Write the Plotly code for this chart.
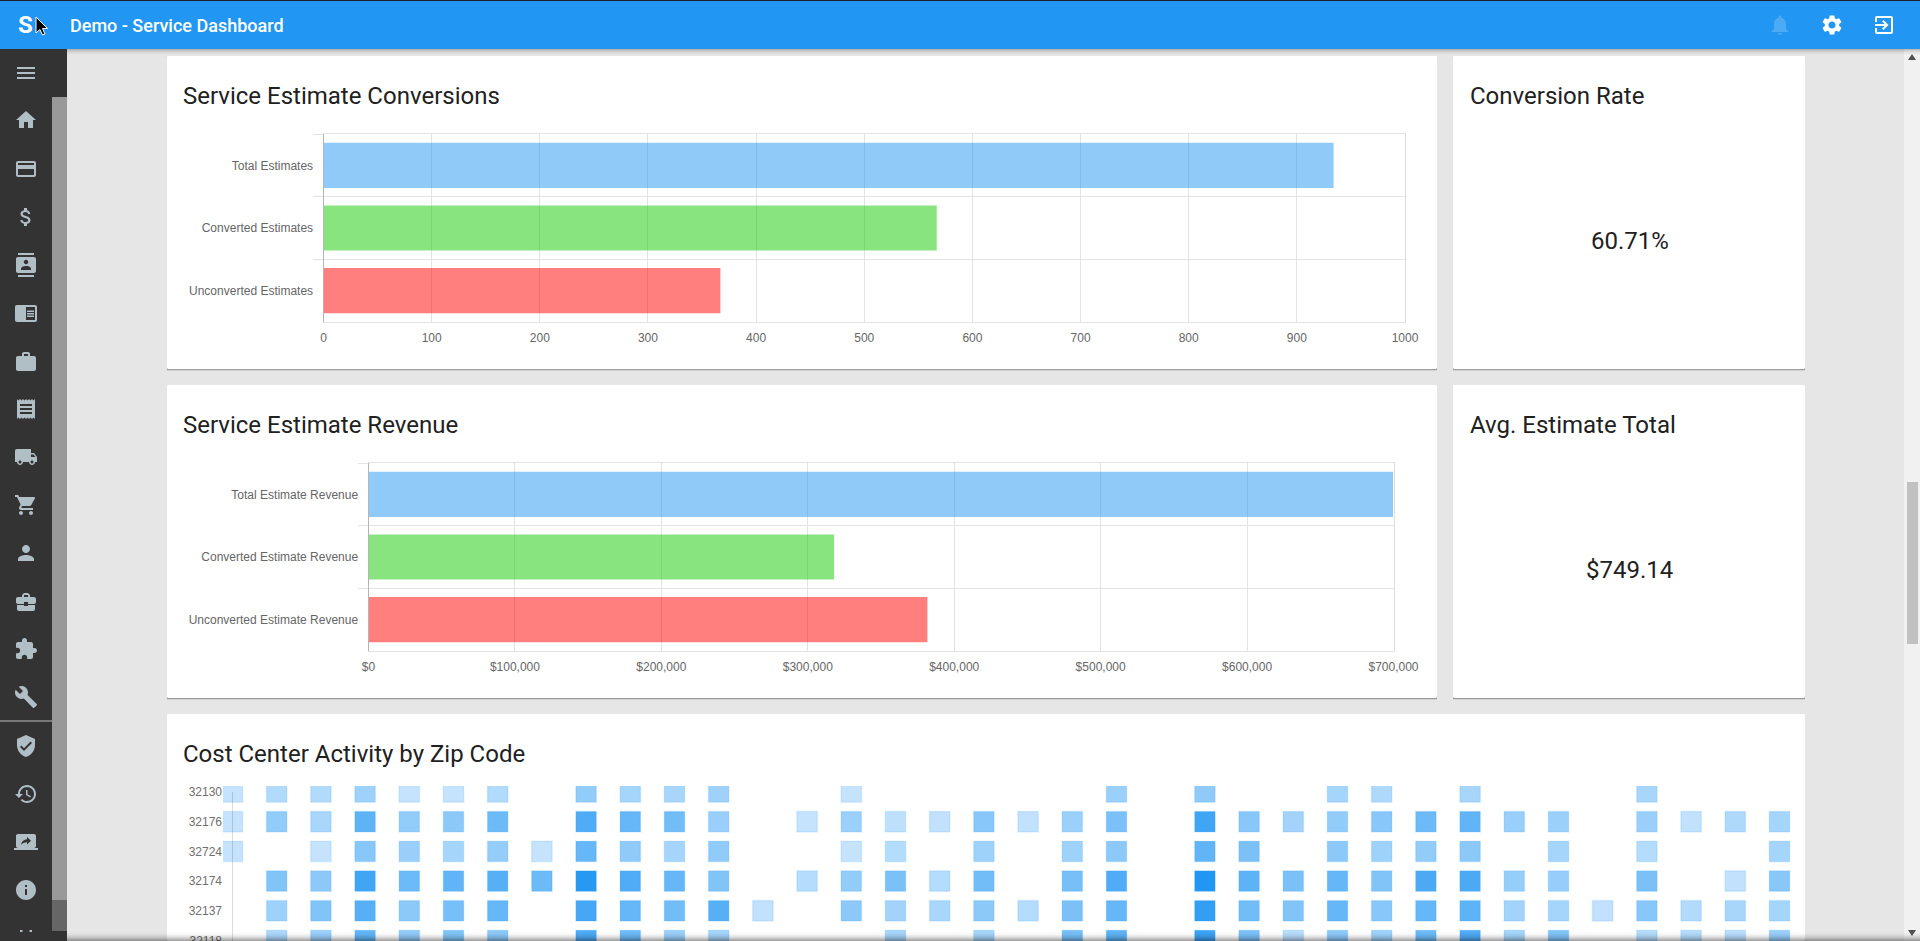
#!/usr/bin/env python3
"""Service dashboard screenshot rebuilt with Plotly: two bar charts and a zip code activity grid."""
import re
import plotly.graph_objects as go

W, H = 1920, 941

# --------------------
# Data
# --------------------
conversion_labels = ["Total Estimates", "Converted Estimates", "Unconverted Estimates"]
conversion_values = [934, 567, 367]
conversion_ticks = [0, 100, 200, 300, 400, 500, 600, 700, 800, 900, 1000]

revenue_labels = ["Total Estimate Revenue", "Converted Estimate Revenue", "Unconverted Estimate Revenue"]
revenue_values = [699697, 318000, 381697]
revenue_ticks = [0, 100000, 200000, 300000, 400000, 500000, 600000, 700000]

bar_colors = ["rgba(33,150,243,0.5)", "rgba(17,201,0,0.5)", "rgba(255,0,0,0.5)"]

conversion_rate = "60.71%"
avg_estimate = "$749.14"

zip_codes = ["32130", "32176", "32724", "32174", "32137", "32118"]
cost_centers = list(range(36))
_ = None
activity_32130 = [5, 20, 20, 35, 5, 5, 20, _, 45, 30, 28, 35, _, _, 5, _, _, _, _, _, 38, _, 48, _, _, 30, 22, _, 28, _, _, _, 28, _, _, _]
activity_32176 = [5, 45, 27, 72, 45, 50, 65, _, 78, 68, 62, 40, _, 5, 38, 10, 8, 52, 8, 38, 58, _, 85, 52, 32, 45, 52, 65, 70, 40, 38, _, 40, 8, 22, 30]
activity_32724 = [5, _, 5, 52, 40, 30, 43, 5, 68, 48, 30, 47, _, _, 5, 18, _, 35, _, 35, 50, _, 70, 58, _, 50, 35, 45, 50, _, 30, _, 18, _, _, 30]
activity_32174 = [_, 55, 50, 85, 65, 70, 75, 65, 97, 78, 68, 55, _, 18, 45, 58, 18, 62, _, 60, 78, _, 100, 72, 58, 68, 55, 80, 80, 42, 42, _, 58, _, 8, 52]
activity_32137 = [_, 35, 55, 75, 50, 60, 68, _, 83, 68, 62, 75, 8, _, 50, 32, 27, 50, 18, 58, 68, _, 92, 62, 55, 68, 52, 68, 72, 32, 30, 8, 52, 20, 28, 30]
activity_32118 = [_, 25, 38, 70, 48, 55, 50, _, 80, 65, 40, 30, _, _, _, 30, _, 30, _, 60, 72, _, 88, 58, 15, 50, 35, 65, 78, 30, 55, _, 18, 18, 15, 40]
activity = [activity_32130, activity_32176, activity_32724, activity_32174, activity_32137, activity_32118]

# Material icon outlines, 24 unit view box
ICONS = {
    "menu": "M3 18H21V16H3Z M3 13H21V11H3Z M3 8H21V6H3Z",
    "home": "M10 20V14H14V20H19V12H22L12 3L2 12H5V20Z",
    "card": "M20 4H4C2.89 4 2.01 4.89 2.01 6L2 18C2 19.11 2.89 20 4 20H20C21.11 20 22 19.11 22 18V6C22 4.89 21.11 4 20 4Z M20 18H4V12H20Z M20 8H4V6H20Z",
    "money": "M11.8 10.9c-2.27-.59-3-1.2-3-2.15 0-1.09 1.01-1.85 2.7-1.85 1.78 0 2.44.85 2.5 2.1h2.21c-.07-1.72-1.12-3.3-3.21-3.81V3h-3v2.16c-1.94.42-3.5 1.68-3.5 3.61 0 2.31 1.91 3.46 4.7 4.13 2.5.6 3 1.48 3 2.41 0 .69-.49 1.79-2.7 1.79-2.06 0-2.87-.92-2.98-2.1h-2.2c.12 2.19 1.76 3.42 3.68 3.83V21h3v-2.15c1.95-.37 3.5-1.5 3.5-3.55 0-2.84-2.43-3.81-4.7-4.4z",
    "contacts": "M20 0H4V2H20Z M4 24H20V22H4Z M20 4H4C2.9 4 2 4.9 2 6V18C2 19.1 2.9 20 4 20H20C21.1 20 22 19.1 22 18V6C22 4.9 21.1 4 20 4Z M12 6.75C13.24 6.75 14.25 7.76 14.25 9C14.25 10.24 13.24 11.25 12 11.25C10.76 11.25 9.75 10.24 9.75 9C9.75 7.76 10.76 6.75 12 6.75Z M17 17H7V15.5C7 13.83 10.33 13 12 13C13.67 13 17 13.83 17 15.5Z",
    "reader": "M21 4H3C1.9 4 1 4.9 1 6V19C1 20.1 1.9 21 3 21H21C22.1 21 23 20.1 23 19V6C23 4.9 22.1 4 21 4Z M21 19H12V6H21Z M13 9.5H20V11H13Z M13 12H20V13.5H13Z M13 14.5H20V16H13Z",
    "work": "M20 6H16V4C16 2.89 15.11 2 14 2H10C8.89 2 8 2.89 8 4V6H4C2.89 6 2.01 6.89 2.01 8L2 19C2 20.11 2.89 21 4 21H20C21.11 21 22 20.11 22 19V8C22 6.89 21.11 6 20 6Z M14 6H10V4H14Z",
    "receipt": "M18 17H6V15H18Z M18 13H6V11H18Z M18 9H6V7H18Z M3 22L4.5 20.5L6 22L7.5 20.5L9 22L10.5 20.5L12 22L13.5 20.5L15 22L16.5 20.5L18 22L19.5 20.5L21 22V2L19.5 3.5L18 2L16.5 3.5L15 2L13.5 3.5L12 2L10.5 3.5L9 2L7.5 3.5L6 2L4.5 3.5L3 2Z",
    "truck": "M20 8H17V4H3C1.9 4 1 4.9 1 6V17H3C3 18.66 4.34 20 6 20C7.66 20 9 18.66 9 17H15C15 18.66 16.34 20 18 20C19.66 20 21 18.66 21 17H23V12Z M6 18.5C5.17 18.5 4.5 17.83 4.5 17C4.5 16.17 5.17 15.5 6 15.5C6.83 15.5 7.5 16.17 7.5 17C7.5 17.83 6.83 18.5 6 18.5Z M19.5 9.5L21.46 12H17V9.5Z M18 18.5C17.17 18.5 16.5 17.83 16.5 17C16.5 16.17 17.17 15.5 18 15.5C18.83 15.5 19.5 16.17 19.5 17C19.5 17.83 18.83 18.5 18 18.5Z",
    "cart": "M7 18C5.9 18 5.01 18.9 5.01 20C5.01 21.1 5.9 22 7 22C8.1 22 9 21.1 9 20C9 18.9 8.1 18 7 18Z M1 2V4H3L6.6 11.59L5.25 14.04C5.09 14.32 5 14.65 5 15C5 16.1 5.9 17 7 17H19V15H7.42C7.28 15 7.17 14.89 7.17 14.75L7.2 14.63L8.1 13H15.55C16.3 13 16.96 12.59 17.3 11.97L20.88 5.48C20.96 5.34 21 5.17 21 5C21 4.45 20.55 4 20 4H5.21L4.27 2Z M17 18C15.9 18 15.01 18.9 15.01 20C15.01 21.1 15.9 22 17 22C18.1 22 19 21.1 19 20C19 18.9 18.1 18 17 18Z",
    "person": "M12 12C14.21 12 16 10.21 16 8C16 5.79 14.21 4 12 4C9.79 4 8 5.79 8 8C8 10.21 9.79 12 12 12Z M12 14C9.33 14 4 15.34 4 18V20H20V18C20 15.34 14.67 14 12 14Z",
    "business": "M10 16V15H3.01L3 19C3 20.11 3.89 21 5 21H19C20.11 21 21 20.11 21 19V15H14V16Z M20 7H15.99V5L13.99 3H9.99L7.99 5V7H4C2.9 7 2 7.9 2 9V12C2 13.11 2.89 14 4 14H10V12H14V14H20C21.1 14 22 13.1 22 12V9C22 7.9 21.1 7 20 7Z M14 7H10V5H14Z",
    "puzzle": "M20.5 11H19V7C19 5.9 18.1 5 17 5H13V3.5C13 2.12 11.88 1 10.5 1C9.12 1 8 2.12 8 3.5V5H4C2.9 5 2.01 5.9 2.01 7V10.8H3.5C4.99 10.8 6.2 12.01 6.2 13.5C6.2 14.99 4.99 16.2 3.5 16.2H2V20C2 21.1 2.9 22 4 22H7.8V20.5C7.8 19.01 9.01 17.8 10.5 17.8C11.99 17.8 13.2 19.01 13.2 20.5V22H17C18.1 22 19 21.1 19 20V16H20.5C21.88 16 23 14.88 23 13.5C23 12.12 21.88 11 20.5 11Z",
    "wrench": "M22.7 19L13.6 9.9C14.5 7.6 14 4.9 12.1 3C10.1 1 7.1 .6 4.7 1.7L9 6L6 9L1.6 4.7C.4 7.1 .9 10.1 2.9 12.1C4.8 14 7.5 14.5 9.8 13.6L18.9 22.7C19.3 23.1 19.9 23.1 20.3 22.7L22.6 20.4C23.1 20 23.1 19.3 22.7 19Z",
    "shield": "M12 1L3 5V11C3 16.55 6.84 21.74 12 23C17.16 21.74 21 16.55 21 11V5Z M10 17L6 13L7.41 11.59L10 14.17L16.59 7.58L18 9Z",
    "history": "M13 3C8.03 3 4 7.03 4 12H1L4.89 15.89L4.96 16.03L9 12H6C6 8.13 9.13 5 13 5C16.87 5 20 8.13 20 12C20 15.87 16.87 19 13 19C11.07 19 9.32 18.21 8.06 16.94L6.64 18.36C8.27 19.99 10.51 21 13 21C17.97 21 22 16.97 22 12C22 7.03 17.97 3 13 3Z M12 8V13L16.28 15.54L17 14.33L13.5 12.25V8Z",
    "screen": "M20 18C21.1 18 21.99 17.1 21.99 16L22 6C22 4.89 21.1 4 20 4H4C2.89 4 2 4.89 2 6V16C2 17.1 2.89 18 4 18H0V20H24V18Z M13 14.47V12.28C10.22 12.28 8.39 13.13 7 15C7.56 12.33 9.11 9.67 13 9.31V7L17 10.73Z",
    "info": "M12 2C6.48 2 2 6.48 2 12C2 17.52 6.48 22 12 22C17.52 22 22 17.52 22 12C22 6.48 17.52 2 12 2Z M13 17H11V11H13Z M13 9H11V7H13Z",
    "bell": "M12 22C13.1 22 14 21.1 14 20H10C10 21.1 10.89 22 12 22Z M18 16V11C18 7.93 16.36 5.36 13.5 4.68V4C13.5 3.17 12.83 2.5 12 2.5C11.17 2.5 10.5 3.17 10.5 4V4.68C7.63 5.36 6 7.92 6 11V16L4 18V19H20V18Z",
    "gear": "M19.14 12.94C19.18 12.64 19.2 12.33 19.2 12C19.2 11.68 19.18 11.36 19.13 11.06L21.16 9.48C21.34 9.34 21.39 9.07 21.28 8.87L19.36 5.55C19.24 5.33 18.99 5.26 18.77 5.33L16.38 6.29C15.88 5.91 15.35 5.59 14.76 5.35L14.4 2.81C14.36 2.57 14.16 2.4 13.92 2.4H10.08C9.84 2.4 9.65 2.57 9.61 2.81L9.25 5.35C8.66 5.59 8.12 5.92 7.63 6.29L5.24 5.33C5.02 5.25 4.77 5.33 4.65 5.55L2.74 8.87C2.62 9.08 2.66 9.34 2.86 9.48L4.89 11.06C4.84 11.36 4.8 11.69 4.8 12C4.8 12.31 4.82 12.64 4.87 12.94L2.84 14.52C2.66 14.66 2.61 14.93 2.72 15.13L4.64 18.45C4.76 18.67 5.01 18.74 5.23 18.67L7.62 17.71C8.12 18.09 8.65 18.41 9.24 18.65L9.6 21.19C9.65 21.43 9.84 21.6 10.08 21.6H13.92C14.16 21.6 14.36 21.43 14.39 21.19L14.75 18.65C15.34 18.41 15.88 18.09 16.37 17.71L18.76 18.67C18.98 18.75 19.23 18.67 19.35 18.45L21.27 15.13C21.39 14.91 21.34 14.66 21.15 14.52Z M12 15.6C10.02 15.6 8.4 13.98 8.4 12C8.4 10.02 10.02 8.4 12 8.4C13.98 8.4 15.6 10.02 15.6 12C15.6 13.98 13.98 15.6 12 15.6Z",
    "exit": "M10.09 15.59L11.5 17L16.5 12L11.5 7L10.09 8.41L12.67 11H3V13H12.67Z M19 3H5C3.89 3 3 3.9 3 5V9H5V5H19V19H5V15H3V19C3 20.1 3.89 21 5 21H19C20.1 21 21 20.1 21 19V5C21 3.9 20.1 3 19 3Z",
    "cursor": "M12 12L12 28L16 24.5L18.5 30L21 29L18.5 23.5L23.5 23.5Z",
}

SIDEBAR_ICONS = [("menu", 73), ("home", 120), ("card", 169), ("money", 217), ("contacts", 265),
                 ("reader", 313), ("work", 362), ("receipt", 409), ("truck", 457), ("cart", 505),
                 ("person", 553), ("business", 602), ("puzzle", 649), ("wrench", 697),
                 ("shield", 746), ("history", 794), ("screen", 842), ("info", 890)]

TEXT = "#212121"
GREY = "#666666"
CHART_FONT = "Liberation Sans"
UI_FONT = "Roboto"


def px(x):
    return x / W


def py(y):
    return 1 - y / H


def icon_path(d, cx, cy, size=24):
    """Turns an icon outline into a path in paper coordinates."""
    scale = size / 24
    tokens = re.findall(r"[MmLlHhVvCcZz]|-?\d*\.?\d+", d)
    out = []
    i, x, y, cmd = 0, 0.0, 0.0, None

    def pt(a, b):
        return f"{px(cx + (a - 12) * scale):.6f},{py(cy + (b - 12) * scale):.6f}"

    while i < len(tokens):
        if tokens[i].isalpha():
            cmd = tokens[i]
            i += 1
            if cmd in "Zz":
                out.append("Z")
                continue
        rel = cmd.islower()
        kind = cmd.upper()
        if kind in "ML":
            a, b = float(tokens[i]), float(tokens[i + 1])
            i += 2
            x, y = (x + a, y + b) if rel else (a, b)
            out.append(kind + pt(x, y))
        elif kind == "H":
            a = float(tokens[i])
            i += 1
            x = x + a if rel else a
            out.append("L" + pt(x, y))
        elif kind == "V":
            b = float(tokens[i])
            i += 1
            y = y + b if rel else b
            out.append("L" + pt(x, y))
        elif kind == "C":
            vals = [float(t) for t in tokens[i:i + 6]]
            i += 6
            if rel:
                vals = [v + (x if n % 2 == 0 else y) for n, v in enumerate(vals)]
            out.append("C" + " ".join(pt(vals[n], vals[n + 1]) for n in (0, 2, 4)))
            x, y = vals[4], vals[5]
    return " ".join(out)


def rect(x0, y0, x1, y1, color, layer="below"):
    return dict(type="rect", xref="paper", yref="paper", x0=px(x0), x1=px(x1), y0=py(y0), y1=py(y1),
                fillcolor=color, line=dict(width=0), layer=layer)


def card(x0, y0, x1, y1):
    r = 3
    d = (f"M{x0 + r} {y0}H{x1 - r}C{x1} {y0} {x1} {y0} {x1} {y0 + r}V{y1 - r}C{x1} {y1} {x1} {y1} {x1 - r} {y1}"
         f"H{x0 + r}C{x0} {y1} {x0} {y1} {x0} {y1 - r}V{y0 + r}C{x0} {y0} {x0} {y0} {x0 + r} {y0}Z")
    return [
        rect(x0, y0 + 2, x1, y1 + 2, "#d2d2d2"),
        rect(x0, y0 + 2, x1, y1 + 1, "#9c9c9c"),
        dict(type="path", xref="paper", yref="paper", path=icon_path(d, 12, 12), fillcolor="white",
             line=dict(width=0), layer="below"),
    ]


def icon(name, cx, cy, color, size=24, layer="below", line=None):
    return dict(type="path", xref="paper", yref="paper", path=icon_path(ICONS[name], cx, cy, size),
                fillcolor=color, fillrule="evenodd", line=line or dict(width=0), layer=layer)


def label(text, x, y, size, color=TEXT, family=UI_FONT, anchor="left", weight=None):
    return dict(text=text, x=px(x), y=py(y), xref="paper", yref="paper", xanchor=anchor, yanchor="middle",
                showarrow=False, font=dict(family=family, size=size, color=color, weight=weight))


def bar_axes(x0, x1, y0, y1, ticks, ticktext, rng, xname, yname):
    xaxis = dict(domain=[px(x0), px(x1)], range=rng, anchor=yname, tickmode="array", tickvals=ticks, ticktext=ticktext,
                 automargin=False, showgrid=True, gridcolor="rgba(0,0,0,0.11)", gridwidth=1, zeroline=False, showline=True, mirror=True,
                 linecolor="#e4e4e4", linewidth=1, ticks="outside", ticklen=5, tickcolor="rgba(0,0,0,0)",
                 tickfont=dict(family=CHART_FONT, size=12, color=GREY), fixedrange=True)
    yaxis = dict(domain=[py(y1), py(y0)], range=[2.5, -0.5], anchor=xname, type="category", tickson="boundaries",
                 automargin=False, showgrid=True, gridcolor="#e4e4e4", gridwidth=1, zeroline=False, showline=True, mirror=True,
                 linecolor="#dedede", linewidth=1, ticks="outside", ticklen=10, tickcolor="#e4e4e4", ticklabelstandoff=7,
                 tickfont=dict(family=CHART_FONT, size=12, color=GREY), fixedrange=True)
    return xaxis, yaxis


# --------------------
# Traces
# --------------------
fig = go.Figure()

fig.add_trace(go.Bar(x=conversion_values, y=conversion_labels, orientation="h", marker_color=bar_colors,
                     marker_line_width=0, width=0.72, xaxis="x", yaxis="y", showlegend=False))
fig.add_trace(go.Bar(x=revenue_values, y=revenue_labels, orientation="h", marker_color=bar_colors,
                     marker_line_width=0, width=0.72, xaxis="x2", yaxis="y2", showlegend=False))

# activity cells: square markers, only where a value exists
cell_x, cell_y, cell_z = [], [], []
for zip_code, row in zip(zip_codes, activity):
    for center, value in zip(cost_centers, row):
        if value is not None:
            cell_x.append(center)
            cell_y.append(zip_code)
            cell_z.append(value)

fig.add_trace(go.Scatter(x=cell_x, y=cell_y, mode="markers", xaxis="x3", yaxis="y3", showlegend=False,
                         marker=dict(symbol="square", size=20.5, color=cell_z, cmin=0, cmax=100,
                                     colorscale=[[0, "#CBE6FD"], [0.5, "#8CC9F9"], [1, "#2196F3"]], showscale=False,
                                     line=dict(width=1.5, color="rgba(33,150,243,0.12)"))))

# --------------------
# Page furniture
# --------------------
shapes = []
shapes.append(rect(0, 0, W, H, "#e6e6e6"))
shapes += card(167, 56, 1437, 369)
shapes += card(1453, 56, 1805, 369)
shapes += card(167, 385, 1437, 698)
shapes += card(1453, 385, 1805, 698)
shapes += card(167, 714, 1805, 941)

# sidebar with its scrollbar
shapes.append(rect(0, 49, 67, H, "#333333"))
shapes.append(rect(52, 97, 67, 900, "#999999"))
shapes.append(rect(52, 900, 67, 931, "#666666"))
shapes.append(rect(0, 720.5, 52, 721.5, "#bdbdbd"))
for name, cy in SIDEBAR_ICONS:
    shapes.append(icon(name, 26, cy, "#b0bec5"))
shapes.append(rect(20, 930, 22.5, 932, "#b0bec5"))
shapes.append(rect(29.5, 930, 32, 932, "#b0bec5"))

# page scrollbar
shapes.append(rect(1904, 49, W, H, "#f1f1f1"))
shapes.append(rect(1907, 482, 1918, 644, "#c1c1c1"))
shapes.append(dict(type="path", xref="paper", yref="paper", fillcolor="#505050", line=dict(width=0), layer="below",
                   path=icon_path("M1912 54L1916 60H1908Z", 12, 12)))
shapes.append(dict(type="path", xref="paper", yref="paper", fillcolor="#505050", line=dict(width=0), layer="below",
                   path=icon_path("M1912 936L1916 930H1908Z", 12, 12)))

# top bar
shapes.append(rect(0, 0, W, 49, "#2196F3"))
shapes.append(rect(0, 0, W, 1, "#1f1f24"))
shapes.append(icon("bell", 1780, 25, "rgba(255,255,255,0.2)"))
shapes.append(icon("gear", 1832, 25, "white"))
shapes.append(icon("exit", 1884, 25, "white"))

# shadows that sit over the content
for n, alpha in enumerate([0.22, 0.15, 0.10, 0.06, 0.03, 0.015]):
    shapes.append(rect(67, 49 + n, W, 50 + n, f"rgba(0,0,0,{alpha})", layer="above"))
for n, alpha in enumerate([0.02, 0.04, 0.07, 0.11, 0.16, 0.22, 0.29, 0.36]):
    shapes.append(rect(67, 933 + n, W, 934 + n, f"rgba(0,0,0,{alpha})", layer="above"))

# zero lines of the bar charts
shapes.append(dict(type="line", xref="x", yref="y domain", x0=0, x1=0, y0=0, y1=1, line=dict(color="#8c8c8c", width=1), layer="above"))
shapes.append(dict(type="line", xref="x2", yref="y2 domain", x0=0, x1=0, y0=0, y1=1, line=dict(color="#8c8c8c", width=1), layer="above"))

# activity y axis line, runs through the first column
shapes.append(dict(type="line", xref="x3", yref="paper", x0=0, x1=0, y0=py(792), y1=0,
                   line=dict(color="rgba(0,0,0,0.14)", width=1), layer="above"))

shapes.append(icon("cursor", 36, 17, "black", layer="above", line=dict(color="white", width=1)))

annotations = [
    label("Demo - Service Dashboard", 68, 25.5, 18, color="white", weight=500),
    label("S", 16, 25, 24, color="white", weight=700),
    label("Service Estimate Conversions", 180.5, 96, 24),
    label("Conversion Rate", 1467.5, 96, 24),
    label("Service Estimate Revenue", 180.5, 425, 24),
    label("Avg. Estimate Total", 1467.5, 425, 24),
    label("Cost Center Activity by Zip Code", 180.5, 754, 24),
    label(conversion_rate, 1629.5, 241, 24, anchor="center"),
    label(avg_estimate, 1629.5, 570, 24, anchor="center"),
]

# --------------------
# Layout
# --------------------
x1, y1 = bar_axes(323.5, 1405, 134, 322, conversion_ticks, [str(t) for t in conversion_ticks], [0, 1000], "x", "y")
x2, y2 = bar_axes(368.5, 1393.5, 463, 651, revenue_ticks, [f"${t:,}" for t in revenue_ticks], [0, 700000], "x2", "y2")

column_px = 44.2
row_px = 29.7
plot_left = 223
x3 = dict(domain=[px(plot_left), px(1791)], range=[(plot_left - 232.5) / column_px, (1791 - 232.5) / column_px],
          anchor="y3", visible=False, automargin=False, fixedrange=True)
y3 = dict(domain=[0, py(786)], range=[(H - 792) / row_px, (786 - 792) / row_px], anchor="x3", type="category",
          categoryorder="array", categoryarray=zip_codes, automargin=False, showgrid=False, zeroline=False, showline=False,
          ticks="", tickfont=dict(family=CHART_FONT, size=12, color="#6f6f6f"), fixedrange=True)

fig.update_layout(
    width=W,
    height=H,
    autosize=False,
    margin=dict(l=0, r=0, t=0, b=0, pad=0, autoexpand=False),
    paper_bgcolor="#e6e6e6",
    plot_bgcolor="rgba(0,0,0,0)",
    xaxis=x1, yaxis=y1, xaxis2=x2, yaxis2=y2, xaxis3=x3, yaxis3=y3,
    shapes=shapes,
    annotations=annotations,
)

fig.write_html("out.html", config={"displayModeBar": False},
               post_script="document.body.style.margin='0';document.body.style.overflow='hidden';")
